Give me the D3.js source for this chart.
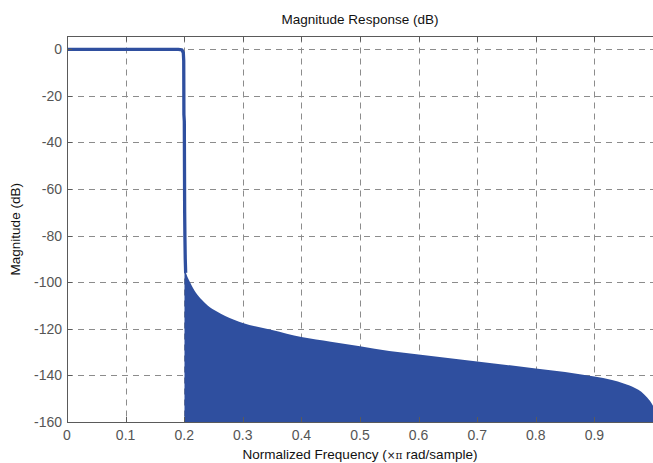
<!DOCTYPE html>
<html>
<head>
<meta charset="utf-8">
<script src="https://cdn.jsdelivr.net/npm/d3@7"></script>
<style>
  body { margin: 0; background: #fff; }
  svg { display: block; font-family: "Liberation Sans", Arial, sans-serif; }
</style>
</head>
<body>
<div id="chart"></div>
<script>
// passband + transition band line (normalized freq, dB)
const passFreq = [0, 0.19, 0.196, 0.1985, 0.1992, 0.1995, 0.2002, 0.2008, 0.2012, 0.2018, 0.2025];
const passMag  = [0, 0, -0.2, -1.5, -5, -28, -31, -70, -80, -90, -96];

// upper envelope of the stopband ripples
const stopFreq = [0.2005, 0.203, 0.206, 0.21, 0.215, 0.22, 0.23, 0.24, 0.255, 0.27, 0.3, 0.35, 0.4, 0.45, 0.5, 0.55, 0.6, 0.65, 0.7, 0.75, 0.8, 0.85, 0.9, 0.93, 0.95, 0.97, 0.98, 0.99, 0.995, 1.0];
const stopMag  = [-95, -96, -98, -100, -102.5, -104.5, -107.5, -110, -112.5, -114.5, -117.5, -120.5, -123.5, -125.5, -127.5, -129.5, -131, -132.5, -134, -135.5, -137, -138.5, -140.5, -142, -143.5, -145.5, -147, -149.5, -151, -153];

const xTicks = [0, 0.1, 0.2, 0.3, 0.4, 0.5, 0.6, 0.7, 0.8, 0.9];
const yTicks = [0, -20, -40, -60, -80, -100, -120, -140, -160];

const W = 653, H = 463;
const margin = { top: 36.5, right: 0, bottom: 41, left: 67 };
const lineColor = "#2f4f9f";

const svg = d3.select("#chart").append("svg").attr("width", W).attr("height", H);

const x = d3.scaleLinear().domain([0, 1]).range([margin.left, 653]);
const y = d3.scaleLinear().domain([-160, 0]).range([H - margin.bottom, 49.3]);
const yTop = margin.top;
const yBot = H - margin.bottom;

// grid
const grid = svg.append("g").attr("stroke", "#8c8c8c").attr("stroke-width", 1).attr("stroke-dasharray", "6,5");
grid.selectAll("line.v").data(xTicks.slice(1)).enter().append("line")
    .attr("x1", d => Math.round(x(d)) + 0.5).attr("x2", d => Math.round(x(d)) + 0.5)
    .attr("y1", yTop).attr("y2", yBot);
grid.selectAll("line.h").data(yTicks.slice(0, -1)).enter().append("line")
    .attr("x1", margin.left).attr("x2", W)
    .attr("y1", d => Math.round(y(d)) + 0.5).attr("y2", d => Math.round(y(d)) + 0.5);

// stopband (dense ripples look solid)
const stop = stopFreq.map((f, i) => ({ f, m: stopMag[i] }));
const area = d3.area()
    .x(d => x(d.f))
    .y0(yBot)
    .y1(d => y(d.m))
    .curve(d3.curveMonotoneX);

const clip = svg.append("clipPath").attr("id", "plotclip").append("rect")
    .attr("x", margin.left).attr("y", yTop).attr("width", W - margin.left).attr("height", yBot - yTop);

const plot = svg.append("g").attr("clip-path", "url(#plotclip)");
plot.append("path").datum(stop).attr("d", area).attr("fill", lineColor);

const pass = passFreq.map((f, i) => ({ f, m: passMag[i] }));
plot.append("path").datum(pass)
    .attr("d", d3.line().x(d => x(d.f)).y(d => y(d.m)))
    .attr("fill", "none").attr("stroke", lineColor).attr("stroke-width", 3.3)
    .attr("stroke-linejoin", "round");

// axes box
const axisColor = "#5a5a5a";
svg.append("line").attr("x1", margin.left + 0.5).attr("x2", margin.left + 0.5).attr("y1", yTop).attr("y2", yBot + 0.5)
    .attr("stroke", axisColor);
svg.append("line").attr("x1", margin.left).attr("x2", W).attr("y1", Math.round(yBot) + 0.5).attr("y2", Math.round(yBot) + 0.5)
    .attr("stroke", axisColor);
svg.append("line").attr("x1", margin.left).attr("x2", W).attr("y1", yTop).attr("y2", yTop)
    .attr("stroke", axisColor);

// ticks (inward)
const tk = svg.append("g").attr("stroke", axisColor);
tk.selectAll("line.xb").data(xTicks.slice(1)).enter().append("line")
    .attr("x1", d => Math.round(x(d)) + 0.5).attr("x2", d => Math.round(x(d)) + 0.5)
    .attr("y1", yBot).attr("y2", yBot - 5);
tk.selectAll("line.xt").data(xTicks.slice(1)).enter().append("line")
    .attr("x1", d => Math.round(x(d)) + 0.5).attr("x2", d => Math.round(x(d)) + 0.5)
    .attr("y1", yTop).attr("y2", yTop + 5);
tk.selectAll("line.yl").data(yTicks).enter().append("line")
    .attr("x1", margin.left).attr("x2", margin.left + 5)
    .attr("y1", d => Math.round(y(d)) + 0.5).attr("y2", d => Math.round(y(d)) + 0.5);

// tick labels
const labelColor = "#555";
svg.append("g").selectAll("text").data(xTicks).enter().append("text")
    .attr("x", d => x(d)).attr("y", yBot + 18)
    .attr("text-anchor", "middle").attr("font-size", 14).attr("fill", labelColor)
    .text(d => d3.format("")(d));
svg.append("g").selectAll("text").data(yTicks).enter().append("text")
    .attr("x", margin.left - 5).attr("y", d => y(d)).attr("dy", "0.35em")
    .attr("text-anchor", "end").attr("font-size", 14).attr("fill", labelColor)
    .text(d => d);

// titles
const cx = (margin.left + W) / 2;
svg.append("text").attr("x", cx).attr("y", 24).attr("text-anchor", "middle")
    .attr("font-size", 13.5).attr("fill", "#111").text("Magnitude Response (dB)");

const xl = svg.append("text").attr("x", cx).attr("y", 459).attr("text-anchor", "middle")
    .attr("font-size", 13.5).attr("fill", "#111");
xl.append("tspan").text("Normalized Frequency  (");
xl.append("tspan").attr("font-size", 10.5).attr("font-family", "DejaVu Serif, serif").text("×π");
xl.append("tspan").text(" rad/sample)");

svg.append("text").attr("transform", `translate(20,${(yTop + yBot) / 2}) rotate(-90)`)
    .attr("text-anchor", "middle").attr("font-size", 13.5).attr("fill", "#111")
    .text("Magnitude (dB)");
</script>
</body>
</html>
